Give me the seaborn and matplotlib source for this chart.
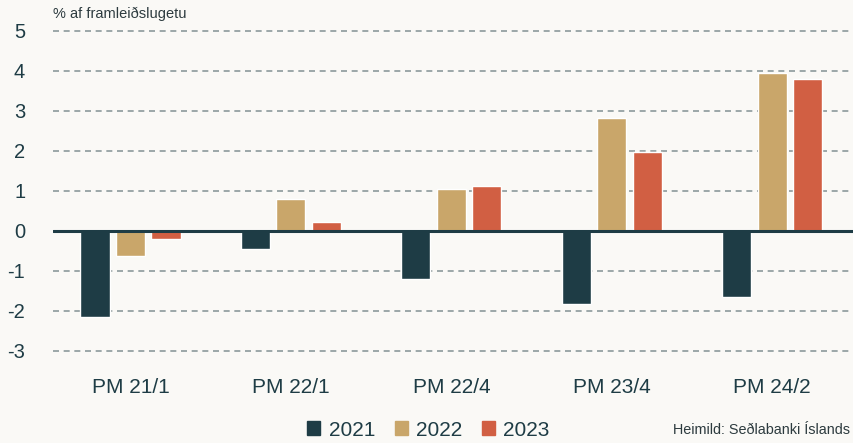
import numpy as np
import pandas as pd
import seaborn as sns
import matplotlib.pyplot as plt

plans = ["PM 21/1", "PM 22/1", "PM 22/4", "PM 23/4", "PM 24/2"]
years = ["2021", "2022", "2023"]
gap_2021 = [-2.15, -0.45, -1.19, -1.83, -1.66]
gap_2022 = [-0.63, 0.79, 1.06, 2.83, 3.95]
gap_2023 = [-0.20, 0.23, 1.13, 1.98, 3.80]

colors = ["#1e3c45", "#c9a66a", "#d15f43"]
bg = "#faf9f6"
ink = "#1e3c45"

df = pd.DataFrame({
    "plan": plans * 3,
    "year": [y for y in years for _ in plans],
    "value": gap_2021 + gap_2022 + gap_2023,
})

sns.set_theme(style="white")
plt.rcParams["font.family"] = ["Liberation Sans", "DejaVu Sans"]

fig = plt.figure(figsize=(8.54, 4.43), dpi=100, facecolor=bg)
ax = fig.add_axes([53 / 854, 80 / 443, 801 / 854, 336 / 443])
ax.set_facecolor(bg)

sns.barplot(data=df, x="plan", y="value", hue="year", palette=colors,
            width=0.664, gap=0.18, saturation=1, ax=ax, legend=False)

ax.set_ylim(-3.3, 5.1)
ax.set_xlim(-0.483, 4.51)
ax.set_yticks(range(-3, 6))
ax.set_yticklabels([str(v) for v in range(-3, 6)])
# dashed gridlines behind the bars, solid zero line on top
for v in range(-3, 6):
    if v != 0:
        ax.axhline(v, color="#8c9a9b", lw=1.2, ls=(0, (3.6, 2.8)), zorder=0)
ax.axhline(0, color=ink, lw=2.2, zorder=3)

for s in ax.spines.values():
    s.set_visible(False)
ax.tick_params(axis="y", length=0, pad=20, labelsize=14.5, labelcolor=ink)
ax.tick_params(axis="x", length=0, pad=11, labelsize=15, labelcolor=ink)
ax.set_xlabel("")
ax.set_ylabel("")

fig.text(53 / 854, 1 - 14 / 443, "% af framleiðslugetu", fontsize=10.5,
         color="#2d3b3f", va="center", ha="left")
fig.text(850 / 854, 1 - 430 / 443, "Heimild: Seðlabanki Íslands", fontsize=10.4,
         color="#2d3b3f", va="center", ha="right")

handles = [plt.Rectangle((0, 0), 1, 1, color=c) for c in colors]
fig.legend(handles, years, loc="center", bbox_to_anchor=(428.5 / 854, 1 - 430 / 443),
           ncol=3, frameon=False, fontsize=15, handlelength=0.62, handleheight=0.62,
           handletextpad=0.4, columnspacing=0.95, labelcolor=ink,
           borderpad=0, borderaxespad=0)

fig.savefig("out.png", dpi=100, facecolor=bg)
